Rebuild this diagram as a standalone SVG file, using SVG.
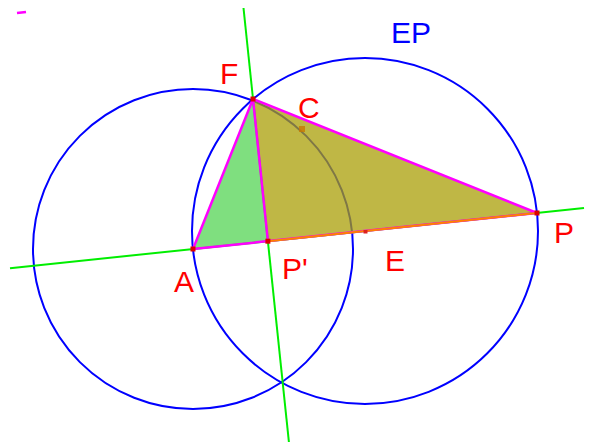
<svg xmlns="http://www.w3.org/2000/svg" width="598" height="443" viewBox="0 0 598 443">
  <style>
    .lbl { font-family: "Liberation Sans", Arial, sans-serif; font-size: 30px; fill: #ff0000; }
    .lblb { font-family: "Liberation Sans", Arial, sans-serif; font-size: 30px; fill: #0000ff; }
    .circ { fill: none; stroke: #0000ff; stroke-width: 2; }
    .gline { stroke: #00ee00; stroke-width: 2; fill: none; }
    .edge { stroke: #ff00ff; stroke-width: 2.5; fill: none; stroke-linecap: round; }
    .pt { fill: #dd0000; }
  </style>
  <rect width="598" height="443" fill="#ffffff"/>
  <g id="circles">
    <circle id="circleA" class="circ" cx="193" cy="249" r="160"/>
    <circle id="circleEP" class="circ" cx="365" cy="231" r="173"/>
  </g>
  <g id="triangles">
    <polygon id="triAFP1" points="193,249 253,99 267.9,241.2" fill="#00c000" fill-opacity="0.5"/>
    <polygon id="triFP1P" points="253,99 267.9,241.2 537,213" fill="#aa9f07" fill-opacity="0.75"/>
  </g>
  <g id="connectors">
    <line class="gline" x1="10" y1="268.2" x2="584" y2="208.1"/>
    <line class="gline" x1="243.5" y1="8" x2="288.9" y2="442"/>
    <line class="edge" x1="193" y1="249" x2="253" y2="99"/>
    <line class="edge" x1="253" y1="99" x2="537" y2="213"/>
    <line class="edge" x1="253" y1="99" x2="267.9" y2="241.2"/>
    <line class="edge" x1="193" y1="249" x2="537" y2="213"/>
    <line x1="267.9" y1="241.2" x2="537" y2="213" stroke="#ff8000" stroke-width="2"/>
    <line x1="17" y1="13" x2="26" y2="12" stroke="#ff00ff" stroke-width="2.5"/>
  </g>
  <g id="nodeA">
    <rect class="pt" x="190.5" y="246.5" width="5" height="5"/>
    <text class="lbl" x="174" y="292">A</text>
  </g>
  <g id="nodeF">
    <rect class="pt" x="250.5" y="96.5" width="5" height="5"/>
    <text class="lbl" x="220" y="84">F</text>
  </g>
  <g id="nodeP">
    <rect class="pt" x="534.5" y="210.5" width="5" height="5"/>
    <text class="lbl" x="554" y="243">P</text>
  </g>
  <g id="nodeP1">
    <rect class="pt" x="265.4" y="238.7" width="5" height="5"/>
    <text class="lbl" x="282" y="279">P'</text>
  </g>
  <g id="nodeC">
    <rect x="299" y="126" width="6" height="6" fill="#c87800" fill-opacity="0.8"/>
    <text class="lbl" x="298" y="118">C</text>
  </g>
  <g id="nodeE">
    <rect x="363.5" y="230" width="4" height="3.5" fill="#dd2020"/>
    <text class="lbl" x="385" y="271">E</text>
  </g>
  <g id="nodeEP">
    <text class="lblb" x="391" y="43">EP</text>
  </g>
</svg>
